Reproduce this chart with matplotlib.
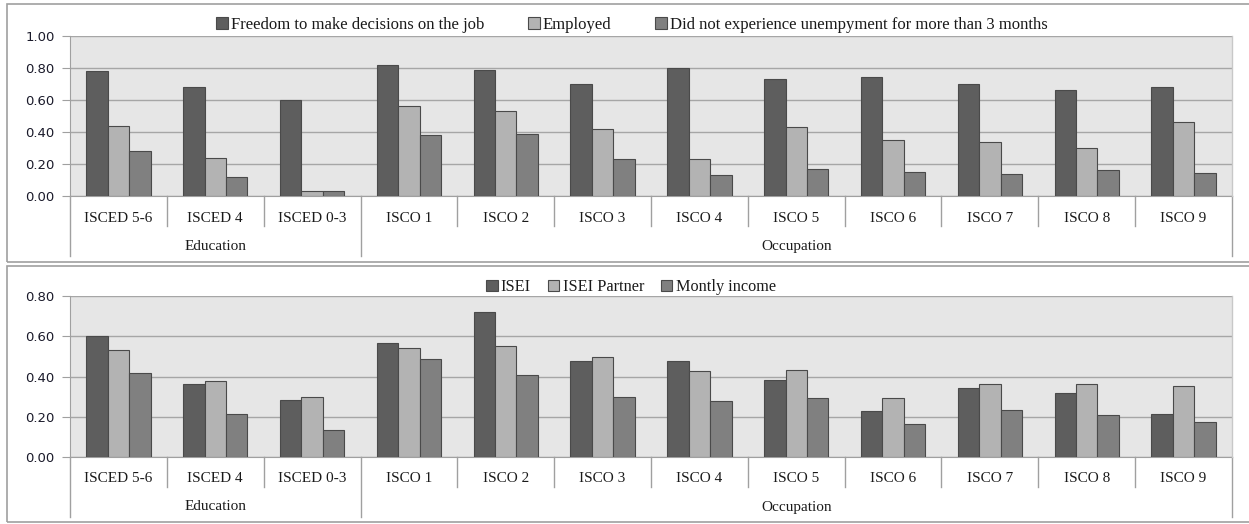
import matplotlib
matplotlib.use('Agg')
import matplotlib.pyplot as plt
from matplotlib.patches import Rectangle
import numpy as np

cats = ['ISCED 5-6', 'ISCED 4', 'ISCED 0-3', 'ISCO 1', 'ISCO 2', 'ISCO 3',
        'ISCO 4', 'ISCO 5', 'ISCO 6', 'ISCO 7', 'ISCO 8', 'ISCO 9']
groups = [('Education', 0, 3), ('Occupation', 3, 12)]

# top panel
top_names = ['Freedom to make decisions on the job', 'Employed',
             'Did not experience unempyment for more than 3 months']
freedom = [0.78, 0.68, 0.60, 0.82, 0.79, 0.70, 0.80, 0.73, 0.745, 0.70, 0.665, 0.68]
employed = [0.44, 0.24, 0.03, 0.56, 0.53, 0.42, 0.23, 0.43, 0.35, 0.34, 0.30, 0.46]
no_unemp = [0.28, 0.12, 0.03, 0.38, 0.39, 0.23, 0.13, 0.17, 0.15, 0.14, 0.16, 0.145]

# bottom panel
bot_names = ['ISEI', 'ISEI Partner', 'Montly income']
isei = [0.60, 0.363, 0.284, 0.566, 0.72, 0.477, 0.477, 0.381, 0.229, 0.343, 0.317, 0.215]
isei_partner = [0.533, 0.38, 0.299, 0.54, 0.554, 0.495, 0.427, 0.432, 0.294, 0.363, 0.363, 0.353]
income = [0.416, 0.213, 0.134, 0.485, 0.406, 0.299, 0.277, 0.294, 0.165, 0.236, 0.208, 0.172]

colors = ['#5e5e5e', '#b3b3b3', '#808080']
serif = ['Liberation Serif', 'DejaVu Serif']

W, H = 1249, 524
fig = plt.figure(figsize=(W / 100, H / 100), dpi=100)

# panel frames
for y0, y1 in [(4, 262), (266, 522)]:
    fig.patches.append(Rectangle((7 / W, 1 - y1 / H), 1.0, (y1 - y0) / H,
                                 transform=fig.transFigure, fill=False,
                                 edgecolor='#a0a0a0', linewidth=1.2))


def draw_panel(top_px, bot_px, ymax, series, names, leg_y, leg_x, leg_size, leg_sp):
    left, right = 70, 1232
    ax = fig.add_axes([left / W, 1 - bot_px / H, (right - left) / W, (bot_px - top_px) / H])
    hpx = bot_px - top_px
    x = np.arange(len(cats))
    w = 0.222
    for i, (vals, name) in enumerate(zip(series, names)):
        ax.bar(x + (i - 1) * w, vals, w, color=colors[i], edgecolor='#4a4a4a',
               linewidth=0.8, label=name, zorder=3)
    ax.set_xlim(-0.5, len(cats) - 0.5)
    ax.set_ylim(0, ymax)
    ax.set_yticks(np.arange(0, ymax + 0.001, 0.2))
    ax.set_yticklabels(['%.2f' % v for v in np.arange(0, ymax + 0.001, 0.2)])
    ax.set_facecolor('#e6e6e6')
    ax.grid(axis='y', color='#a6a6a6', linewidth=1.0, zorder=0)
    ax.set_axisbelow(True)
    ax.set_xticks([])
    for s in ['top', 'right']:
        ax.spines[s].set_visible(False)
    ax.spines['left'].set_color('#a0a0a0')
    ax.spines['bottom'].set_color('#a0a0a0')
    ax.tick_params(axis='y', length=6, color='#a0a0a0', pad=5, labelsize=9.5,
                   labelcolor='#1a1a2a')
    for lbl in ax.get_yticklabels():
        lbl.set_fontfamily('DejaVu Sans')
    ax.plot([len(cats) - 0.5] * 2, [0, ymax], color='#c8c8c8', linewidth=1, clip_on=False, zorder=4)

    tr = ax.get_xaxis_transform()
    # category dividers and labels
    for k in range(len(cats) + 1):
        bx = k - 0.5
        is_group = bx in [-0.5, 2.5, len(cats) - 0.5]
        depth = 60 if is_group else 30
        ax.plot([bx, bx], [0, -depth / hpx], transform=tr, color='#a0a0a0',
                linewidth=1, clip_on=False)
    for k, c in enumerate(cats):
        ax.text(k, -22 / hpx, c, transform=tr, ha='center', va='center',
                fontsize=11, family=serif, color='#1a1a1a')
    for g, a, b in groups:
        ax.text((a + b - 1) / 2, -50 / hpx, g, transform=tr, ha='center', va='center',
                fontsize=11, family=serif, color='#1a1a1a')

    leg = fig.legend(handles=ax.containers, labels=names, loc='center',
                     bbox_to_anchor=(leg_x / W, 1 - leg_y / H), ncol=3, frameon=False,
                     handlelength=0.7, handleheight=0.7, handletextpad=0.2,
                     columnspacing=leg_sp, prop={'family': serif, 'size': leg_size})
    for t in leg.get_texts():
        t.set_color('#1a1a1a')
    return ax


draw_panel(36, 196, 1.0, [freedom, employed, no_unemp], top_names, 25, 632, 12, 2.6)
draw_panel(296, 457, 0.8, [isei, isei_partner, income], bot_names, 287, 631, 11.7, 1.05)

fig.savefig('out.png', dpi=100)
